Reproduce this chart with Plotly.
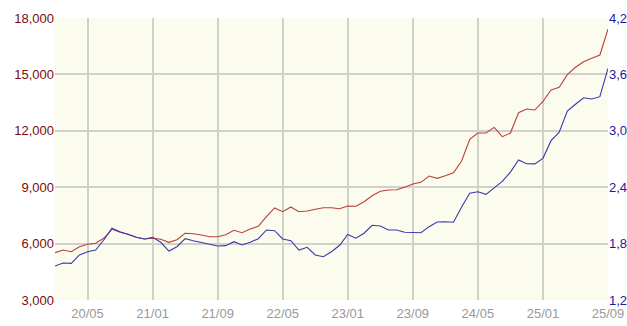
import plotly.graph_objects as go

months = list(range(69))  # monthly index, 2020/01 .. 2025/09
tick_pos = [4, 12, 20, 28, 36, 44, 52, 60, 68]
tick_labels = ["20/05", "21/01", "21/09", "22/05", "23/01", "23/09", "24/05", "25/01", "25/09"]

red_series = [5516, 5660, 5569, 5835, 5963, 6016, 6282, 6761, 6601, 6495,
              6335, 6245, 6282, 6229, 6069, 6207, 6548, 6527, 6457, 6367,
              6367, 6473, 6707, 6580, 6777, 6920, 7431, 7894, 7697, 7947,
              7697, 7734, 7824, 7910, 7910, 7856, 8000, 7984, 8229, 8548,
              8782, 8851, 8867, 8995, 9170, 9260, 9596, 9473, 9612, 9771,
              10393, 11548, 11880, 11880, 12180, 11686, 11880, 12963, 13159, 13106,
              13560, 14170, 14314, 14990, 15378, 15676, 15857, 16032, 17410]

blue_series = [1562, 1594, 1590, 1679, 1714, 1732, 1838, 1963, 1927, 1899,
               1867, 1849, 1867, 1814, 1721, 1767, 1852, 1831, 1810, 1788,
               1774, 1778, 1820, 1785, 1814, 1852, 1945, 1937, 1849, 1831,
               1732, 1761, 1679, 1661, 1714, 1782, 1897, 1857, 1910, 1995,
               1987, 1945, 1945, 1920, 1916, 1916, 1980, 2030, 2033, 2027,
               2190, 2335, 2352, 2324, 2393, 2462, 2560, 2689, 2650, 2648,
               2707, 2895, 2985, 3210, 3282, 3352, 3338, 3363, 3665]

left_ticks = [3000, 6000, 9000, 12000, 15000, 18000]
right_ticks = [1200, 1800, 2400, 3000, 3600, 4200]

fig = go.Figure()
fig.add_trace(go.Scatter(x=months, y=red_series, mode="lines",
                         line=dict(color="#b8403a", width=1.1), yaxis="y"))
fig.add_trace(go.Scatter(x=months, y=blue_series, mode="lines",
                         line=dict(color="#3a3aa8", width=1.1), yaxis="y2"))

font_family = "Liberation Sans, Arial, sans-serif"
fig.update_layout(
    width=627, height=326,
    margin=dict(l=55, r=19, t=18, b=26, autoexpand=False),
    paper_bgcolor="white",
    plot_bgcolor="#fcfcee",
    showlegend=False,
    font=dict(family=font_family, size=13),
    xaxis=dict(
        range=[0, 68], tickmode="array", tickvals=tick_pos, ticktext=tick_labels,
        showgrid=True, gridcolor="#d0d0cc", gridwidth=2,
        zeroline=False, showline=False, ticks="", ticklabelstandoff=4,
        tickfont=dict(color="#999999", size=13), automargin=False,
    ),
    yaxis=dict(
        range=[3000, 18000], tickmode="array", tickvals=left_ticks,
        ticktext=[f"{v:,}" for v in left_ticks],
        showgrid=True, gridcolor="#d0d0cc", gridwidth=2,
        zeroline=False, showline=False, ticks="",
        tickfont=dict(color="#7a0c0c", size=13), automargin=False,
    ),
    yaxis2=dict(
        range=[1200, 4200], tickmode="array", tickvals=right_ticks,
        ticktext=[f"{v:,}" for v in right_ticks],
        overlaying="y", side="right", showgrid=False,
        zeroline=False, showline=False, ticks="",
        tickfont=dict(color="#1a1a9a", size=13), automargin=False,
    ),
)

fig.write_html("out.html")
